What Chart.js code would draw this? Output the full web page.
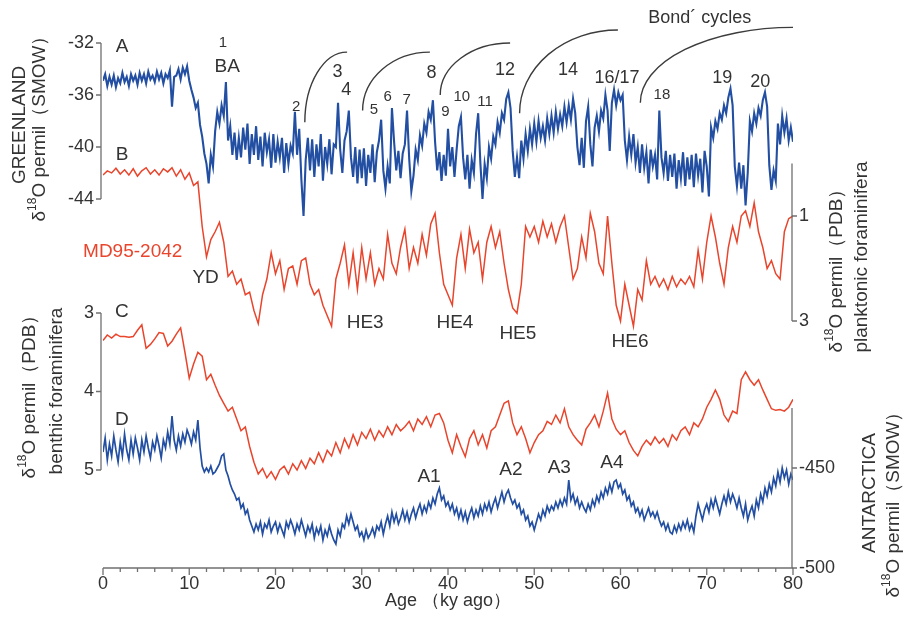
<!DOCTYPE html>
<html>
<head>
<meta charset="utf-8">
<script src="https://cdn.jsdelivr.net/npm/chart.js@4.4.1/dist/chart.umd.min.js"></script>
<style>
  html, body { margin: 0; padding: 0; background: #fff; }
  canvas { display: block; }
</style>
</head>
<body>
<canvas id="chart" width="903" height="637"></canvas>
<script>
// ages in ky ago, each record on a fixed age step
const STEP_ICE = 0.25;
const STEP_CORES = 0.5;

// A: Greenland ice core d18O (permil SMOW)
const greenland = [
  -34.9,-34.4,-35.3,-34.6,-35.2,-34.5,-35.4,-34.7,
  -35.1,-34.3,-35.0,-34.6,-35.3,-34.4,-34.9,-34.5,
  -35.2,-34.3,-34.9,-34.4,-35.1,-34.2,-34.8,-34.5,
  -35.0,-34.2,-34.8,-34.3,-35.1,-34.4,-34.7,-34.1,
  -36.9,-34.6,-34.5,-34.0,-34.8,-33.9,-34.4,-33.8,
  -34.9,-35.6,-36.2,-37.0,-36.6,-38.3,-39.2,-40.5,
  -41.3,-42.8,-40.6,-41.5,-38.8,-37.3,-38.2,-36.8,
  -37.6,-35.0,-39.5,-38.4,-40.6,-38.9,-41.0,-39.3,
  -40.8,-38.5,-40.2,-38.2,-41.3,-39.0,-40.6,-38.4,
  -41.0,-39.2,-41.5,-38.9,-40.4,-39.4,-41.6,-39.0,
  -41.2,-39.6,-40.8,-39.3,-42.0,-39.7,-41.3,-39.9,
  -40.5,-37.3,-40.6,-38.6,-42.5,-45.3,-41.0,-39.3,
  -41.8,-39.4,-42.3,-39.8,-41.5,-39.0,-42.6,-40.0,
  -41.3,-39.4,-42.1,-39.8,-40.0,-36.6,-40.2,-42.0,
  -39.5,-38.8,-37.2,-40.8,-42.3,-40.0,-42.8,-40.2,
  -42.4,-40.1,-43.0,-40.6,-42.0,-39.8,-42.7,-40.4,
  -39.5,-37.9,-41.8,-43.2,-41.5,-42.8,-37.0,-39.6,
  -41.8,-40.3,-42.4,-40.5,-39.8,-37.2,-40.9,-43.4,
  -42.2,-40.2,-41.0,-39.1,-39.9,-38.2,-38.9,-37.3,
  -37.9,-36.4,-39.6,-41.8,-40.4,-42.6,-40.6,-42.2,
  -38.6,-41.5,-40.0,-42.3,-40.2,-38.4,-37.7,-40.8,
  -42.5,-40.6,-43.2,-41.0,-42.0,-39.0,-37.4,-41.2,
  -44.0,-41.3,-42.4,-40.0,-40.9,-39.2,-39.8,-38.1,
  -38.9,-37.4,-37.9,-36.3,-35.8,-37.0,-40.3,-42.3,
  -40.8,-42.4,-39.5,-40.9,-39.0,-40.3,-38.6,-39.8,
  -38.2,-39.6,-38.0,-39.3,-38.4,-39.5,-37.8,-39.0,
  -37.6,-38.9,-37.3,-38.6,-37.5,-38.4,-36.9,-38.1,
  -36.8,-37.9,-36.3,-37.4,-40.0,-41.4,-39.3,-41.6,
  -38.0,-36.9,-39.8,-41.5,-38.5,-37.6,-38.8,-37.2,
  -37.8,-36.0,-37.2,-40.3,-36.6,-35.6,-36.8,-35.8,
  -36.4,-36.0,-39.5,-41.0,-39.2,-40.6,-39.0,-41.2,
  -40.0,-42.0,-39.8,-41.6,-40.4,-42.8,-40.2,-41.5,
  -40.6,-42.5,-37.2,-40.8,-42.0,-40.3,-42.6,-40.6,
  -42.3,-40.5,-43.2,-41.0,-42.4,-40.4,-43.0,-40.8,
  -42.5,-40.6,-43.1,-40.5,-42.2,-40.9,-43.5,-40.3,
  -41.5,-43.8,-38.5,-39.3,-38.0,-38.6,-37.4,-37.9,
  -36.8,-37.4,-36.2,-35.5,-36.8,-41.5,-43.0,-41.2,
  -43.2,-41.4,-44.5,-42.0,-38.0,-38.8,-37.4,-38.2,
  -37.0,-37.6,-36.4,-35.8,-36.9,-41.4,-43.3,-41.8,
  -42.6,-38.2,-39.8,-37.6,-38.9,-37.8,-39.5,-38.5,
  -39.6
];

// B: MD95-2042 planktonic foraminifera d18O (permil PDB)
const planktonic = [
  0.22,0.14,0.18,0.09,0.20,0.12,0.22,0.10,0.24,0.14,
  0.08,0.20,0.12,0.22,0.10,0.16,0.08,0.24,0.12,0.30,
  0.18,0.42,0.35,1.20,1.78,1.45,1.30,1.12,1.50,2.15,
  2.05,2.30,2.20,2.50,2.45,2.80,3.05,2.50,2.20,1.70,
  2.10,1.85,2.40,2.00,1.95,2.30,1.85,1.80,2.30,2.50,
  2.40,2.70,2.90,3.10,2.20,1.90,1.55,2.30,1.70,2.40,
  1.60,2.20,1.70,2.30,2.00,2.20,1.35,1.90,2.10,1.60,
  1.25,2.00,1.60,1.90,1.35,1.75,1.15,0.95,1.70,2.30,
  2.50,2.70,1.80,1.35,2.00,1.25,1.70,1.50,2.20,1.50,
  1.20,1.60,1.30,1.90,2.40,2.75,2.85,2.30,1.20,1.40,
  1.20,1.50,1.10,1.40,1.15,1.50,1.20,1.00,1.60,2.20,
  2.00,1.40,1.80,0.95,1.30,1.90,2.10,1.00,1.90,2.70,
  3.00,2.30,2.70,3.10,2.40,2.60,1.85,2.30,2.15,2.35,
  2.20,2.40,2.15,2.35,2.20,2.30,2.15,2.35,1.65,2.20,
  1.50,1.00,1.40,1.90,2.30,1.60,1.20,1.50,1.00,0.90,
  1.20,0.75,1.30,1.60,2.00,1.85,2.10,2.20,1.30,1.05,
  1.00
];

// C: MD95-2042 benthic foraminifera d18O (permil PDB)
const benthic = [
  3.35,3.28,3.32,3.27,3.30,3.30,3.31,3.30,3.22,3.15,
  3.45,3.40,3.33,3.25,3.26,3.42,3.36,3.27,3.19,3.50,
  3.83,3.65,3.50,3.55,3.85,3.78,3.92,4.05,4.15,4.25,
  4.20,4.35,4.50,4.45,4.70,4.90,5.05,4.98,5.10,5.02,
  5.12,5.00,4.95,5.05,4.92,5.00,4.88,4.98,4.85,4.92,
  4.78,4.90,4.75,4.82,4.65,4.78,4.60,4.72,4.55,4.68,
  4.52,4.60,4.48,4.62,4.50,4.58,4.45,4.55,4.42,4.50,
  4.45,4.38,4.50,4.35,4.42,4.32,4.45,4.30,4.28,4.40,
  4.62,4.78,4.55,4.70,4.83,4.60,4.50,4.68,4.55,4.72,
  4.50,4.45,4.30,4.15,4.12,4.40,4.55,4.45,4.60,4.78,
  4.65,4.55,4.50,4.38,4.42,4.30,4.40,4.22,4.45,4.55,
  4.62,4.68,4.48,4.40,4.30,4.45,4.25,4.02,4.35,4.48,
  4.55,4.50,4.65,4.75,4.82,4.70,4.62,4.68,4.58,4.66,
  4.60,4.70,4.55,4.62,4.50,4.45,4.55,4.40,4.45,4.35,
  4.20,4.10,3.98,4.10,4.30,4.38,4.25,4.28,3.85,3.75,
  3.85,3.92,3.85,3.98,4.10,4.22,4.24,4.23,4.25,4.20,
  4.10
];

// D: Antarctica ice core (permil SMOW)
const antarctica = [
  -442,-435,-446,-438,-444,-434,-441,-447,
  -437,-444,-433,-441,-446,-436,-443,-435,
  -440,-446,-436,-442,-434,-440,-445,-437,
  -441,-434,-439,-445,-436,-440,-432,-438,
  -424,-436,-441,-434,-439,-433,-437,-431,
  -434,-438,-432,-436,-426,-440,-449,-452,
  -450,-452,-449,-453,-452,-450,-448,-444,
  -443,-451,-454,-458,-461,-463,-466,-465,
  -470,-468,-473,-471,-476,-479,-482,-478,
  -481,-477,-483,-478,-480,-476,-482,-479,
  -477,-482,-478,-481,-484,-477,-480,-476,
  -479,-483,-478,-481,-476,-480,-484,-479,
  -482,-478,-485,-480,-483,-479,-486,-481,
  -484,-479,-483,-486,-488,-481,-484,-478,
  -480,-474,-478,-473,-477,-481,-479,-484,
  -482,-486,-481,-485,-483,-480,-484,-479,
  -481,-477,-483,-478,-474,-479,-472,-477,
  -473,-478,-475,-471,-476,-472,-477,-473,
  -470,-475,-471,-468,-473,-469,-472,-467,
  -470,-465,-468,-463,-460,-466,-464,-469,
  -467,-471,-468,-473,-470,-475,-471,-476,
  -472,-477,-473,-470,-475,-471,-474,-469,
  -473,-468,-471,-467,-472,-468,-465,-470,
  -466,-462,-467,-463,-461,-465,-468,-466,
  -470,-468,-473,-471,-476,-474,-479,-477,
  -481,-477,-473,-476,-471,-474,-469,-472,
  -469,-471,-467,-470,-466,-469,-465,-468,
  -456,-466,-463,-468,-465,-470,-467,-470,
  -472,-468,-471,-466,-469,-464,-467,-462,
  -465,-460,-463,-458,-462,-457,-456,-460,
  -458,-463,-461,-466,-464,-469,-467,-472,
  -470,-474,-471,-476,-473,-470,-474,-472,
  -475,-472,-476,-479,-477,-481,-478,-482,
  -483,-479,-482,-478,-481,-477,-480,-476,
  -481,-478,-482,-474,-468,-472,-476,-471,
  -468,-472,-466,-470,-465,-469,-473,-468,
  -464,-468,-462,-467,-463,-466,-470,-465,
  -470,-474,-468,-476,-472,-469,-474,-466,
  -470,-463,-467,-460,-464,-458,-462,-455,
  -459,-452,-457,-450,-455,-451,-458,-453,
  -456
];

// tick labels
const ageTicks = [0, 10, 20, 30, 40, 50, 60, 70, 80];
const greenlandTicks = [-32, -36, -40, -44];
const planktonicTicks = [1, 3];
const benthicTicks = [3, 4, 5];
const antarcticaTicks = [-450, -500];
const planktonicAxisSpan = [0, 3];
const antarcticaAxisSpan = [-420, -500];

// annotations: [text, age, value, font size]
const greenlandNotes = [
  ['1', 13.9, -32.0, 15], ['BA', 14.4, -33.85, 19], ['2', 22.4, -36.9, 15],
  ['3', 27.2, -34.2, 18], ['4', 28.2, -35.6, 18], ['5', 31.4, -37.15, 15],
  ['6', 33.0, -36.15, 15], ['7', 35.2, -36.4, 15], ['8', 38.1, -34.3, 18],
  ['9', 39.7, -37.3, 15], ['10', 41.6, -36.15, 15], ['11', 44.3, -36.5, 15],
  ['12', 46.6, -34.1, 18], ['14', 53.9, -34.1, 18], ['16/17', 59.6, -34.7, 18],
  ['18', 64.8, -36.0, 15], ['19', 71.8, -34.7, 18], ['20', 76.2, -35.0, 18],
  ['Bond\u00b4 cycles', 69.2, -30.1, 18], ['A', 2.2, -32.3, 19]
];
const planktonicNotes = [
  ['HE3', 30.4, 3.04], ['HE4', 40.8, 3.04], ['HE5', 48.1, 3.25], ['HE6', 61.1, 3.4],
  ['YD', 11.9, 2.18], ['B', 2.2, -0.16]
];
const benthicNotes = [['C', 2.2, 2.99]];
const antarcticaNotes = [
  ['A1', 37.8, -454.5], ['A2', 47.3, -451], ['A3', 52.9, -450], ['A4', 59.0, -447.5],
  ['D', 2.2, -426]
];
// Bond cycle arcs: [start age, start value, end age, end value] on the Greenland scale
const bondArcs = [
  [23.4, -38.1, 28.3, -32.7],
  [30.1, -37.2, 37.9, -32.7],
  [39.1, -36.0, 47.2, -32.0],
  [48.3, -37.4, 59.7, -31.0],
  [62.3, -36.6, 80.0, -30.8]
];

const BLUE = '#234fa3';
const RED = '#e8452c';
const INK = '#333333';
const AXIS = '#707070';
const FONT = '"Liberation Sans", Arial, sans-serif';

const PLOT_TOP = 10;
const PLOT_BOTTOM = 568;

// turn two (value, pixel) anchors into a scale range over the plot height
function fitRange(v1, y1, v2, y2) {
  const k = (y2 - y1) / (v2 - v1);
  const atTop = v1 + (PLOT_TOP - y1) / k;
  const atBottom = v1 + (PLOT_BOTTOM - y1) / k;
  if (k < 0) return { min: atBottom, max: atTop, reverse: false };
  return { min: atTop, max: atBottom, reverse: true };
}

function series(values, step) {
  return values.map((v, i) => ({ x: i * step, y: v }));
}

function drawRuns(ctx, runs, cx, cy) {
  ctx.save();
  ctx.translate(cx, cy);
  ctx.rotate(-Math.PI / 2);
  let total = 0;
  runs.forEach(r => { ctx.font = r[1] + 'px ' + FONT; total += ctx.measureText(r[0]).width; });
  let x = -total / 2;
  ctx.textAlign = 'left';
  ctx.textBaseline = 'middle';
  runs.forEach(r => {
    ctx.font = r[1] + 'px ' + FONT;
    ctx.fillText(r[0], x, r[2] || 0);
    x += ctx.measureText(r[0]).width;
  });
  ctx.restore();
}

const axesPlugin = {
  id: 'paleoAxes',
  afterDatasetsDraw(chart) {
    const ctx = chart.ctx;
    const s = chart.scales;
    const xs = s.x;
    const left = xs.getPixelForValue(0) - 2;
    const right = xs.getPixelForValue(80) - 1;
    const bottom = chart.chartArea.bottom;

    ctx.save();
    ctx.strokeStyle = AXIS;
    ctx.fillStyle = INK;
    ctx.lineWidth = 1.3;

    function vAxis(scale, ticks, span, x, dir) {
      ctx.beginPath();
      ctx.moveTo(x, scale.getPixelForValue(span[0]));
      ctx.lineTo(x, scale.getPixelForValue(span[1]));
      ticks.forEach(t => {
        const y = scale.getPixelForValue(t);
        ctx.moveTo(x, y);
        ctx.lineTo(x + dir * 5, y);
      });
      ctx.stroke();
      ctx.font = '18px ' + FONT;
      ctx.textAlign = dir < 0 ? 'right' : 'left';
      ctx.textBaseline = 'middle';
      ticks.forEach(t => ctx.fillText(String(t), x + dir * 7, scale.getPixelForValue(t)));
    }
    vAxis(s.yA, greenlandTicks, [greenlandTicks[0], greenlandTicks[greenlandTicks.length - 1]], left, -1);
    vAxis(s.yC, benthicTicks, [benthicTicks[0], benthicTicks[benthicTicks.length - 1]], left, -1);
    vAxis(s.yB, planktonicTicks, planktonicAxisSpan, right, 1);
    vAxis(s.yD, antarcticaTicks, antarcticaAxisSpan, right, 1);

    // age axis with minor ticks every 2 ky
    ctx.beginPath();
    ctx.moveTo(xs.getPixelForValue(0), bottom);
    ctx.lineTo(xs.getPixelForValue(80), bottom);
    for (let a = 0; a <= 80; a += 2) {
      const px = xs.getPixelForValue(a);
      ctx.moveTo(px, bottom);
      ctx.lineTo(px, bottom + (a % 10 === 0 ? 7 : 4));
    }
    ctx.stroke();
    ctx.font = '18px ' + FONT;
    ctx.textAlign = 'center';
    ctx.textBaseline = 'top';
    ageTicks.forEach(a => ctx.fillText(String(a), xs.getPixelForValue(a), bottom + 7));
    ctx.textBaseline = 'middle';
    ctx.fillText('Age \uff08ky ago\uff09', xs.getPixelForValue(40), 601);

    // bond cycle arcs
    ctx.strokeStyle = '#3c3c3c';
    ctx.lineWidth = 1.4;
    bondArcs.forEach(b => {
      const x0 = xs.getPixelForValue(b[0]), y0 = s.yA.getPixelForValue(b[1]);
      const x1 = xs.getPixelForValue(b[2]), y1 = s.yA.getPixelForValue(b[3]);
      ctx.beginPath();
      ctx.ellipse(x1, y0, x1 - x0, y0 - y1, 0, Math.PI, 1.5 * Math.PI);
      ctx.stroke();
    });

    // annotations
    function notes(list, scale, color) {
      ctx.fillStyle = color;
      ctx.textAlign = 'center';
      ctx.textBaseline = 'middle';
      list.forEach(n => {
        ctx.font = (n[3] || 19) + 'px ' + FONT;
        ctx.fillText(n[0], xs.getPixelForValue(n[1]), scale.getPixelForValue(n[2]));
      });
    }
    notes(greenlandNotes, s.yA, INK);
    notes(planktonicNotes, s.yB, INK);
    notes(benthicNotes, s.yC, INK);
    notes(antarcticaNotes, s.yD, INK);

    ctx.fillStyle = RED;
    ctx.font = '19px ' + FONT;
    ctx.textAlign = 'right';
    ctx.fillText('MD95-2042', xs.getPixelForValue(9.2), s.yB.getPixelForValue(1.68));

    // axis titles
    ctx.fillStyle = INK;
    const d18 = tail => [['\u03b4', 19], ['18', 12, -7], ['O permil' + tail, 19]];
    drawRuns(ctx, [['GREENLAND', 19]], 20, 125);
    drawRuns(ctx, d18('\uff08SMOW\uff09'), 40, 124);
    drawRuns(ctx, d18('\uff08PDB\uff09'), 30, 392);
    drawRuns(ctx, [['benthic foraminifera', 19]], 57, 391);
    drawRuns(ctx, d18('\uff08PDB\uff09'), 837, 266);
    drawRuns(ctx, [['planktonic foraminifera', 19]], 862, 257);
    drawRuns(ctx, [['ANTARCTICA', 19]], 870, 493);
    drawRuns(ctx, d18('\uff08SMOW\uff09'), 894, 500);
    ctx.restore();
  }
};

const rA = fitRange(-32, 43, -44, 199);
const rB = fitRange(1, 216, 3, 321);
const rC = fitRange(3, 313, 5, 470);
const rD = fitRange(-450, 468, -500, 568);

new Chart(document.getElementById('chart'), {
  type: 'line',
  data: {
    datasets: [
      { data: series(greenland, STEP_ICE), yAxisID: 'yA', borderColor: BLUE, borderWidth: 2.1 },
      { data: series(planktonic, STEP_CORES), yAxisID: 'yB', borderColor: RED, borderWidth: 1.5 },
      { data: series(benthic, STEP_CORES), yAxisID: 'yC', borderColor: RED, borderWidth: 1.5 },
      { data: series(antarctica, STEP_ICE), yAxisID: 'yD', borderColor: BLUE, borderWidth: 1.7 }
    ]
  },
  options: {
    responsive: false,
    animation: false,
    devicePixelRatio: 1,
    events: [],
    layout: { padding: { left: 103, right: 110, top: PLOT_TOP, bottom: 637 - PLOT_BOTTOM } },
    elements: { point: { radius: 0 }, line: { tension: 0 } },
    plugins: { legend: { display: false }, tooltip: { enabled: false } },
    scales: {
      x: { type: 'linear', min: 0, max: 80, display: false },
      yA: { type: 'linear', display: false, min: rA.min, max: rA.max, reverse: rA.reverse },
      yB: { type: 'linear', display: false, min: rB.min, max: rB.max, reverse: rB.reverse },
      yC: { type: 'linear', display: false, min: rC.min, max: rC.max, reverse: rC.reverse },
      yD: { type: 'linear', display: false, min: rD.min, max: rD.max, reverse: rD.reverse }
    }
  },
  plugins: [axesPlugin]
});
</script>
</body>
</html>
